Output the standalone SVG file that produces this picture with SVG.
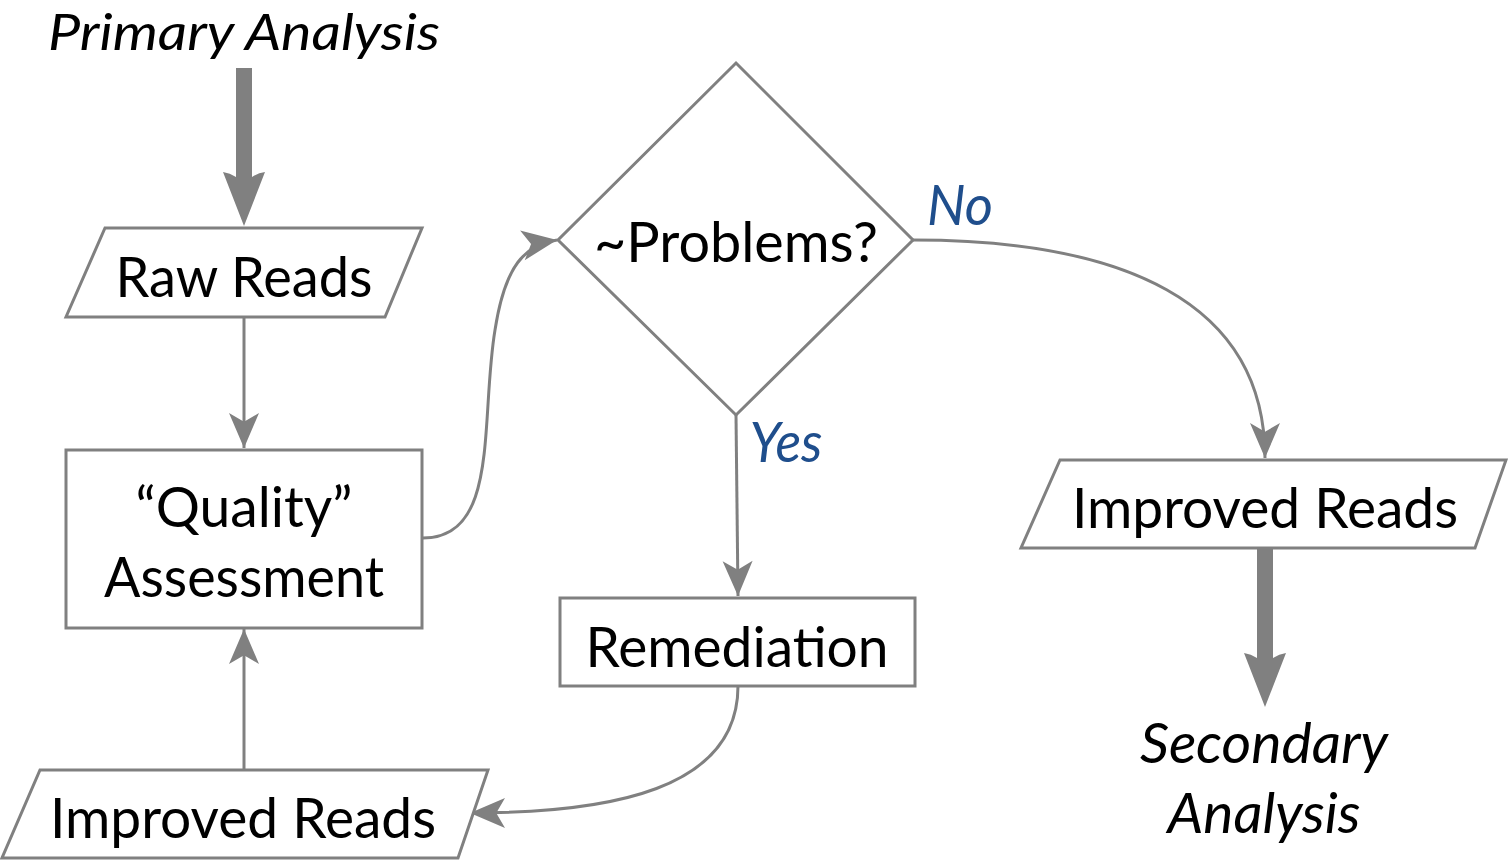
<svg xmlns="http://www.w3.org/2000/svg" width="1508" height="861" viewBox="0 0 1508 861">
<style>
.shape{fill:#fff;stroke:#808080;stroke-width:3}
.conn{fill:none;stroke:#808080;stroke-width:3}
.thick{fill:#808080;stroke:none}
text{font-family:Lato,"Liberation Sans",sans-serif;font-size:56px;fill:#000;text-anchor:middle}
.it{font-style:italic}
.lbl{font-style:italic;fill:#1f4e8c}
</style>
<defs>
<marker id="ah" markerUnits="userSpaceOnUse" markerWidth="40" markerHeight="40" viewBox="-30 -14 32 28" refX="0" refY="0" orient="auto">
<path d="M0,0 L-28,-12 L-21,0 L-28,12 Z" fill="#808080"/>
</marker>
</defs>
<rect width="1508" height="861" fill="#fff"/>
<g id="connectors">
<path class="thick" d="M236,68 H252 V177 Q258,173 265,172 L244,226 L223,172 Q230,173 236,177 Z"/>
<path class="thick" d="M1257,549 H1273 V658 Q1279,654 1286,653 L1265,707 L1244,653 Q1251,654 1257,658 Z"/>
<path class="conn" marker-end="url(#ah)" d="M244,317 V448"/>
<path class="conn" marker-end="url(#ah)" d="M423,538 C500,538 480,420 495,330 C505,265 525,245 557,240"/>
<path class="conn" marker-end="url(#ah)" d="M913,240 C1120,240 1265,300 1265,458"/>
<path class="conn" marker-end="url(#ah)" d="M736,415 L738,596"/>
<path class="conn" marker-end="url(#ah)" d="M738,686 C738,790 610,813 470,813"/>
<path class="conn" marker-end="url(#ah)" d="M244,770 V629"/>
</g>
<g id="primary"><text class="it" x="244" y="50" style="font-size:50px" textLength="392" lengthAdjust="spacingAndGlyphs">Primary Analysis</text></g>
<g id="raw-reads">
<polygon class="shape" points="105,228 422,228 385,317 66,317"/>
<text x="244" y="297" textLength="257" lengthAdjust="spacingAndGlyphs">Raw Reads</text>
</g>
<g id="quality">
<rect class="shape" x="66" y="450" width="356" height="178"/>
<text x="244" y="527" textLength="217" lengthAdjust="spacingAndGlyphs">“Quality”</text>
<text x="244" y="597" textLength="280" lengthAdjust="spacingAndGlyphs">Assessment</text>
</g>
<g id="problems">
<polygon class="shape" points="736,63 913,240 736,415 558,240"/>
<text x="736" y="262" textLength="284" lengthAdjust="spacingAndGlyphs">~Problems?</text>
</g>
<g id="label-no"><text class="lbl" x="960" y="225" textLength="66" lengthAdjust="spacingAndGlyphs">No</text></g>
<g id="label-yes"><text class="lbl" x="786" y="462" textLength="73" lengthAdjust="spacingAndGlyphs">Yes</text></g>
<g id="improved-right">
<polygon class="shape" points="1060,460 1506,460 1475,548 1021,548"/>
<text x="1265" y="528" textLength="386" lengthAdjust="spacingAndGlyphs">Improved Reads</text>
</g>
<g id="secondary">
<text class="it" x="1264" y="763" textLength="248" lengthAdjust="spacingAndGlyphs">Secondary</text>
<text class="it" x="1264" y="833" textLength="193" lengthAdjust="spacingAndGlyphs">Analysis</text>
</g>
<g id="remediation">
<rect class="shape" x="560" y="598" width="355" height="88"/>
<text x="737" y="667" textLength="303" lengthAdjust="spacingAndGlyphs">Remediation</text>
</g>
<g id="improved-left">
<polygon class="shape" points="40,770 488,770 458,858 2,858"/>
<text x="243" y="838" textLength="386" lengthAdjust="spacingAndGlyphs">Improved Reads</text>
</g>
</svg>
